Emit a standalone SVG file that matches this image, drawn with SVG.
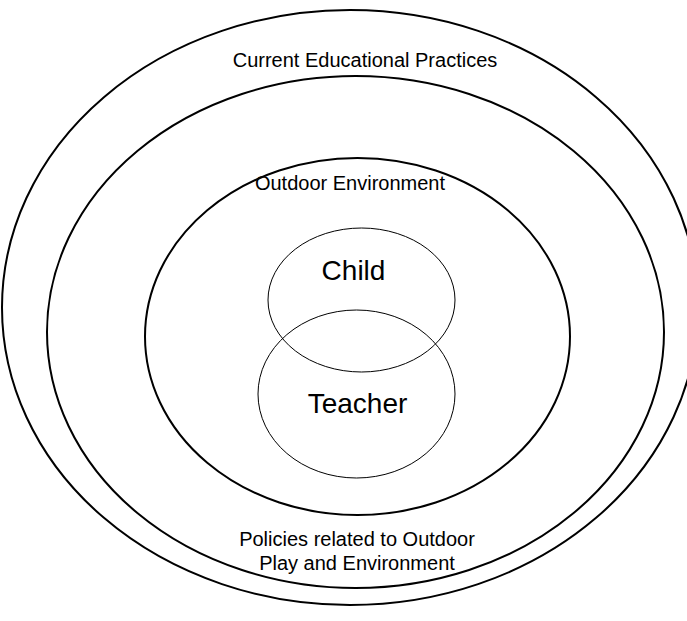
<svg xmlns="http://www.w3.org/2000/svg" width="687" height="621" viewBox="0 0 687 621">
  <style>
    .ring { fill: none; stroke: #000; stroke-width: 2; }
    .core { fill: none; stroke: #000; stroke-width: 1; }
    .lbl { font-family: "Liberation Sans", Arial, sans-serif; font-size: 20px; fill: #000; text-anchor: middle; }
    .big { font-family: "Liberation Sans", Arial, sans-serif; font-size: 28px; fill: #000; text-anchor: middle; }
  </style>
  <rect width="687" height="621" fill="#fff"/>
  <g id="practices">
    <ellipse class="ring" cx="350" cy="307.5" rx="348" ry="297.5"/>
    <text class="lbl" x="365" y="67">Current Educational Practices</text>
  </g>
  <g id="policies">
    <ellipse class="ring" cx="355.5" cy="332" rx="308.5" ry="256"/>
    <text class="lbl" x="357" y="546">Policies related to Outdoor</text>
    <text class="lbl" x="357" y="570">Play and Environment</text>
  </g>
  <g id="environment">
    <ellipse class="ring" cx="357.5" cy="336.5" rx="212.5" ry="178.5"/>
    <text class="lbl" x="350" y="190">Outdoor Environment</text>
  </g>
  <g id="child">
    <ellipse class="core" cx="361.5" cy="300" rx="93.5" ry="72"/>
    <text class="big" x="353.5" y="280">Child</text>
  </g>
  <g id="teacher">
    <ellipse class="core" cx="356.5" cy="394" rx="98.5" ry="84"/>
    <text class="big" x="357.5" y="413">Teacher</text>
  </g>
  <g id="connectors"/>
</svg>
